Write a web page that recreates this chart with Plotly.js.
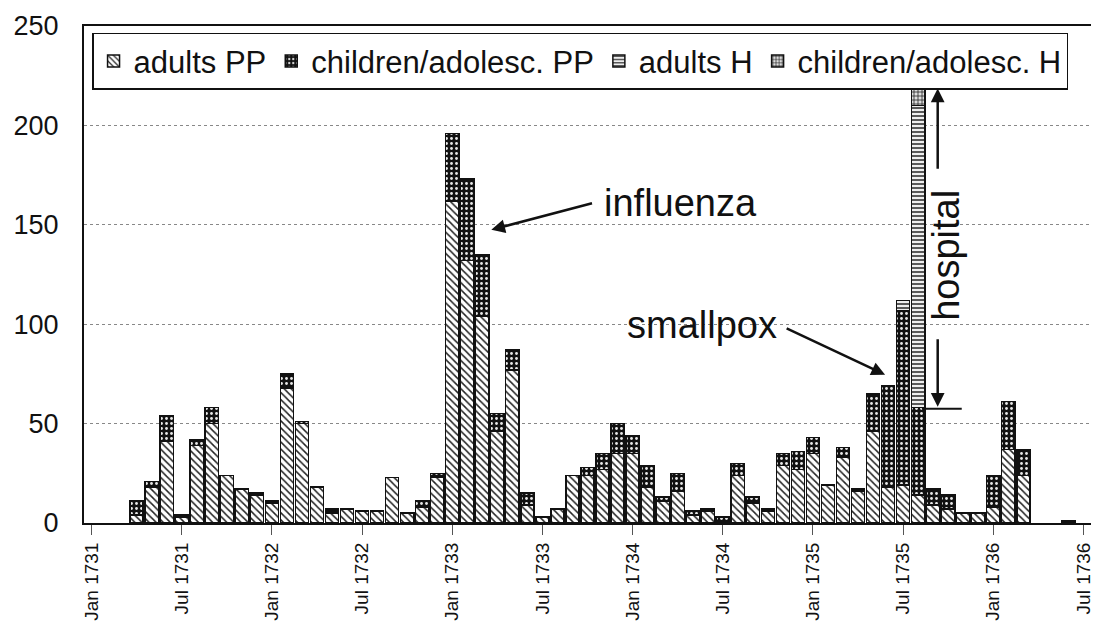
<!DOCTYPE html>
<html>
<head>
<meta charset="utf-8">
<script src="https://cdn.plot.ly/plotly-3.0.1.min.js"></script>
<style>html,body{margin:0;padding:0;background:#fff;}#chart{width:1094px;height:623px;}</style>
</head>
<body>
<div id="chart"></div>
<script>
// Months (Jan 1731 .. Jul 1736)
const months = [
 'Jan 1731','Feb 1731','Mar 1731','Apr 1731','May 1731','Jun 1731','Jul 1731','Aug 1731','Sep 1731','Oct 1731','Nov 1731','Dec 1731',
 'Jan 1732','Feb 1732','Mar 1732','Apr 1732','May 1732','Jun 1732','Jul 1732','Aug 1732','Sep 1732','Oct 1732','Nov 1732','Dec 1732',
 'Jan 1733','Feb 1733','Mar 1733','Apr 1733','May 1733','Jun 1733','Jul 1733','Aug 1733','Sep 1733','Oct 1733','Nov 1733','Dec 1733',
 'Jan 1734','Feb 1734','Mar 1734','Apr 1734','May 1734','Jun 1734','Jul 1734','Aug 1734','Sep 1734','Oct 1734','Nov 1734','Dec 1734',
 'Jan 1735','Feb 1735','Mar 1735','Apr 1735','May 1735','Jun 1735','Jul 1735','Aug 1735','Sep 1735','Oct 1735','Nov 1735','Dec 1735',
 'Jan 1736','Feb 1736','Mar 1736','Apr 1736','May 1736','Jun 1736','Jul 1736'
];
const adultsPP = [
 0,0,0,4,18,41,3,39,50,24,17,14,
 10,68,50,18,5,7,6,6,23,5,8,23,
 162,132,104,46,77,9,3,7,24,24,27,35,
 35,18,11,16,4,6,1,24,10,6,29,27,
 35,19,33,16,46,18,19,14,9,7,5,5,
 8,37,24,0,0,0,0
];
const childrenPP = [
 0,0,0,7,3,13,1,3,8,0,0,1,
 1,7,1,0,2,0,0,0,0,0,3,2,
 34,41,31,9,10,6,0,0,0,4,8,15,
 9,11,2,9,2,1,2,6,3,1,6,9,
 8,0,5,1,19,51,88,44,8,7,0,0,
 16,24,13,0,0,1,0
];
const adultsH = [
 0,0,0,0,0,0,0,0,0,0,0,0,
 0,0,0,0,0,0,0,0,0,0,0,0,
 0,0,0,0,0,0,0,0,0,0,0,0,
 0,0,0,0,0,0,0,0,0,0,0,0,
 0,0,0,0,0,0,5,152,0,0,0,0,
 0,0,0,0,0,0,0
];
const childrenH = [
 0,0,0,0,0,0,0,0,0,0,0,0,
 0,0,0,0,0,0,0,0,0,0,0,0,
 0,0,0,0,0,0,0,0,0,0,0,0,
 0,0,0,0,0,0,0,0,0,0,0,0,
 0,0,0,0,0,0,0,10,0,0,0,0,
 0,0,0,0,0,0,0
];
const seriesNames = ['adults PP','children/adolesc. PP','adults H','children/adolesc. H'];
const tickLabels = ['Jan 1731','Jul 1731','Jan 1732','Jul 1732','Jan 1733','Jul 1733','Jan 1734','Jul 1734','Jan 1735','Jul 1735','Jan 1736','Jul 1736'];
const yTicks = [0,50,100,150,200,250];

const FONT = 'Liberation Sans, Arial, Helvetica, sans-serif';
const outline = {color:'#111', width:1.5};

const traces = [
 {name:seriesNames[0], y:adultsPP, pattern:{shape:'\\', fgcolor:'#222', bgcolor:'#fff', size:5, solidity:0.3}},
 {name:seriesNames[1], y:childrenPP, pattern:{shape:'.', fgcolor:'#e8e8e8', bgcolor:'#111', size:5, solidity:0.25}},
 {name:seriesNames[2], y:adultsH, pattern:{shape:'-', fgcolor:'#333', bgcolor:'#eee', size:4, solidity:0.4}},
 {name:seriesNames[3], y:childrenH, pattern:{shape:'+', fgcolor:'#222', bgcolor:'#ddd', size:4, solidity:0.35}}
].map(s => ({
  type:'bar', x:months, y:s.y.map(v => v === 0 ? null : v), name:s.name,
  marker:{color:s.pattern.bgcolor, line:outline, pattern:s.pattern},
  hoverinfo:'skip'
}));

const ann = (x, y, text, extra) => Object.assign({x, y, xref:'x', yref:'y', text, showarrow:false,
  font:{family:FONT, size:38, color:'#111'}}, extra||{});
const arrow = (x, y, ax, ay) => ({x, y, ax, ay, xref:'x', yref:'y', axref:'x', ayref:'y', text:'',
  showarrow:true, arrowhead:2, arrowsize:1.1, arrowwidth:2.5, arrowcolor:'#111'});

const layout = {
  width:1094, height:623,
  margin:{l:84, r:3, t:26, b:100},
  paper_bgcolor:'#fff', plot_bgcolor:'#fff',
  barmode:'stack', bargap:0.12,
  font:{family:FONT, color:'#111'},
  showlegend:true,
  legend:{orientation:'h', x:0.008, y:0.986, xanchor:'left', yanchor:'top',
    bgcolor:'#fff', bordercolor:'#111', borderwidth:1.5,
    font:{family:FONT, size:31, color:'#111'}, traceorder:'normal'},
  xaxis:{type:'category', categoryorder:'array', categoryarray:months, range:[-0.5, 66.5],
    tickvals:tickLabels, ticktext:tickLabels, tickangle:-90,
    ticks:'outside', ticklen:10, tickwidth:1, tickcolor:'#555',
    tickfont:{family:FONT, size:19, color:'#111'},
    showline:true, linecolor:'#111', linewidth:2, mirror:true, showgrid:false, zeroline:false, fixedrange:true},
  yaxis:{range:[0,250], tickvals:yTicks, ticktext:yTicks.map(String),
    tickfont:{family:FONT, size:27, color:'#111'}, ticks:'', ticklabelstandoff:18,
    showgrid:true, gridcolor:'#888', griddash:'dot', gridwidth:1,
    showline:true, linecolor:'#111', linewidth:2, zeroline:false, fixedrange:true},
  annotations:[
    ann(39.2, 161, 'influenza'),
    arrow(26.6, 147.5, 33.4, 161),
    ann(40.65, 99.5, 'smallpox'),
    arrow(52.8, 74.6, 46.15, 98.2),
    ann(56.8, 134.5, 'hospital', {textangle:-90}),
    arrow(56.3, 218.5, 56.3, 177.5),
    arrow(56.3, 58.5, 56.3, 93.2)
  ],
  shapes:[
    {type:'line', xref:'x', yref:'y', x0:55.25, x1:57.9, y0:220, y1:220, line:{color:'#111', width:2}},
    {type:'line', xref:'x', yref:'y', x0:55.25, x1:57.9, y0:57.5, y1:57.5, line:{color:'#111', width:2}}
  ]
};

Plotly.newPlot('chart', traces, layout, {displayModeBar:false, staticPlot:true});
</script>
</body>
</html>
